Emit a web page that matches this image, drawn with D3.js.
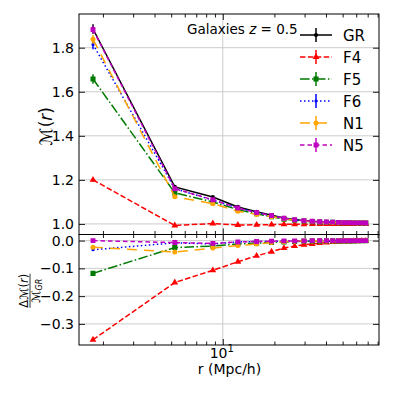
<!DOCTYPE html>
<html>
<head>
<meta charset="utf-8">
<script src="https://cdn.jsdelivr.net/npm/d3@7"></script>
<style>
body { margin: 0; background: #fff; }
text { font-family: "DejaVu Sans", sans-serif; fill: #000; }
</style>
</head>
<body>
<script>
var width = 394;
var height = 394;

// bin centres, Mpc/h
var radii = [1.75, 5.25, 8.75, 12.25, 15.75, 19.25, 22.75, 26.25, 29.75, 33.25,
             36.75, 40.25, 43.75, 47.25, 50.75, 54.25, 57.75, 61.25, 64.75, 68.25];

var models = ["GR", "F4", "F5", "F6", "N1", "N5"];

// mark correlation function M(r)
var markGR = [1.885, 1.168, 1.122, 1.077, 1.055, 1.040, 1.027, 1.020, 1.015, 1.012, 1.010, 1.009, 1.008, 1.007, 1.006, 1.006, 1.005, 1.005, 1.005, 1.004];
var markF4 = [1.200, 0.993, 1.002, 0.995, 0.996, 0.997, 0.998, 0.998, 0.998, 0.999, 0.999, 0.999, 0.999, 1.000, 1.000, 1.000, 1.000, 1.000, 1.000, 1.000];
var markF5 = [1.658, 1.141, 1.100, 1.065, 1.046, 1.033, 1.022, 1.017, 1.013, 1.010, 1.008, 1.007, 1.007, 1.006, 1.005, 1.005, 1.005, 1.004, 1.004, 1.004];
var markF6 = [1.815, 1.160, 1.108, 1.072, 1.052, 1.037, 1.025, 1.018, 1.014, 1.011, 1.009, 1.008, 1.007, 1.006, 1.006, 1.005, 1.005, 1.005, 1.004, 1.004];
var markN1 = [1.838, 1.123, 1.092, 1.058, 1.043, 1.033, 1.024, 1.018, 1.014, 1.011, 1.009, 1.008, 1.007, 1.006, 1.006, 1.005, 1.005, 1.004, 1.004, 1.004];
var markN5 = [1.882, 1.160, 1.110, 1.072, 1.052, 1.038, 1.026, 1.019, 1.015, 1.012, 1.010, 1.009, 1.008, 1.007, 1.006, 1.006, 1.005, 1.005, 1.005, 1.004];

// error bars on M(r)
var errGR = [0.022, 0.006, 0.004, 0.003, 0.002, 0.002, 0.001, 0.001, 0.001, 0.001, 0.001, 0.001, 0.001, 0.001, 0.001, 0.001, 0.001, 0.001, 0.001, 0.001];
var errF4 = [0.008, 0.003, 0.002, 0.002, 0.001, 0.001, 0.001, 0.001, 0.001, 0.001, 0.001, 0.001, 0.001, 0.001, 0.001, 0.001, 0.001, 0.001, 0.001, 0.001];
var errF5 = [0.022, 0.006, 0.004, 0.003, 0.002, 0.002, 0.001, 0.001, 0.001, 0.001, 0.001, 0.001, 0.001, 0.001, 0.001, 0.001, 0.001, 0.001, 0.001, 0.001];
var errF6 = [0.022, 0.006, 0.004, 0.003, 0.002, 0.002, 0.001, 0.001, 0.001, 0.001, 0.001, 0.001, 0.001, 0.001, 0.001, 0.001, 0.001, 0.001, 0.001, 0.001];
var errN1 = [0.020, 0.006, 0.004, 0.003, 0.002, 0.002, 0.001, 0.001, 0.001, 0.001, 0.001, 0.001, 0.001, 0.001, 0.001, 0.001, 0.001, 0.001, 0.001, 0.001];
var errN5 = [0.016, 0.006, 0.004, 0.003, 0.002, 0.002, 0.001, 0.001, 0.001, 0.001, 0.001, 0.001, 0.001, 0.001, 0.001, 0.001, 0.001, 0.001, 0.001, 0.001];

// relative difference to GR
var diffGR = [0, 0, 0, 0, 0, 0, 0, 0, 0, 0, 0, 0, 0, 0, 0, 0, 0, 0, 0, 0];
var diffF4 = [-0.357, -0.151, -0.107, -0.076, -0.055, -0.040, -0.027, -0.020, -0.015, -0.012, -0.009, -0.007, -0.005, -0.004, -0.003, -0.003, -0.002, -0.002, -0.001, -0.001];
var diffF5 = [-0.118, -0.025, -0.020, -0.012, -0.009, -0.007, -0.005, -0.003, -0.002, -0.002, -0.002, -0.001, -0.001, -0.001, -0.001, -0.001, -0.001, 0.000, 0.000, 0.000];
var diffF6 = [-0.033, -0.008, -0.012, -0.005, -0.003, -0.003, -0.002, -0.002, -0.001, -0.001, -0.001, -0.001, -0.001, -0.001, 0.000, 0.000, 0.000, 0.000, 0.000, 0.000];
var diffN1 = [-0.024, -0.041, -0.027, -0.018, -0.012, -0.007, -0.004, -0.002, -0.001, -0.001, -0.001, -0.001, -0.001, 0.000, 0.000, 0.000, 0.000, 0.000, 0.000, 0.000];
var diffN5 = [0.000, -0.007, -0.010, -0.005, -0.003, -0.002, -0.001, -0.001, -0.001, 0.000, 0.000, 0.000, 0.000, 0.000, 0.000, 0.000, 0.000, 0.000, 0.000, 0.000];

var topTicks = [1.0, 1.2, 1.4, 1.6, 1.8];
var bottomTicks = [0.0, -0.1, -0.2, -0.3];
var minorX = [2, 3, 4, 5, 6, 7, 8, 9, 20, 30, 40, 50, 60, 70, 80];

var marks = [markGR, markF4, markF5, markF6, markN1, markN5];
var errs = [errGR, errF4, errF5, errF6, errN1, errN5];
var diffs = [diffGR, diffF4, diffF5, diffF6, diffN1, diffN5];

var styles = {
    GR: { color: "#000000", dash: null, symbol: d3.symbolCircle, size: 14 },
    F4: { color: "#ff0000", dash: "5.5,2.4", symbol: d3.symbolTriangle, size: 20 },
    F5: { color: "#007a00", dash: "9.6,2.4,1.5,2.4", symbol: d3.symbolSquare, size: 26 },
    F6: { color: "#0000ff", dash: "1.5,2.5", symbol: d3.symbolCircle, size: 8 },
    N1: { color: "#ffa500", dash: "10,7", symbol: d3.symbolCircle, size: 20 },
    N5: { color: "#bf00bf", dash: "4.5,3", symbol: d3.symbolSquare, size: 24 }
};

var left = 79, right = 379, top1 = 14, mid = 234.5, bottom2 = 345;

var x = d3.scaleLog().domain([1.45, 81.5]).range([left, right]);
var yTop = d3.scaleLinear().domain([0.952, 1.953]).range([mid, top1]);
var yBot = d3.scaleLinear().domain([-0.376, 0.022]).range([bottom2, mid]);

var svg = d3.select("body").append("svg")
    .attr("width", width)
    .attr("height", height);

svg.append("defs").append("clipPath").attr("id", "clipTop")
    .append("rect").attr("x", left).attr("y", top1).attr("width", right - left).attr("height", mid - top1);
svg.select("defs").append("clipPath").attr("id", "clipBot")
    .append("rect").attr("x", left).attr("y", mid).attr("width", right - left).attr("height", bottom2 - mid);

// grid
var grid = svg.append("g").attr("stroke", "#cccccc").attr("stroke-width", 1);
topTicks.forEach(function (t) {
    grid.append("line").attr("x1", left).attr("x2", right).attr("y1", yTop(t)).attr("y2", yTop(t));
});
bottomTicks.forEach(function (t) {
    grid.append("line").attr("x1", left).attr("x2", right).attr("y1", yBot(t)).attr("y2", yBot(t));
});
grid.append("line").attr("x1", x(10)).attr("x2", x(10)).attr("y1", top1).attr("y2", bottom2);

var fmt = function (d) { return d3.format(".1f")(d).replace("-", "\u2212"); };

function drawAxes(y, ticks, y0, y1, showX) {
    var g = svg.append("g");
    g.append("g").attr("transform", "translate(" + left + ",0)")
        .call(d3.axisLeft(y).tickValues(ticks).tickSize(-6).tickPadding(5).tickFormat(fmt));
    g.append("g").attr("transform", "translate(" + right + ",0)")
        .call(d3.axisRight(y).tickValues(ticks).tickSize(-6).tickFormat(""));
    g.append("g").attr("transform", "translate(0," + y0 + ")")
        .call(d3.axisTop(x).tickValues([10]).tickSize(-6).tickFormat(""));
    g.append("g").attr("transform", "translate(0," + y0 + ")")
        .call(d3.axisTop(x).tickValues(minorX).tickSize(-3.5).tickFormat(""));
    g.append("g").attr("transform", "translate(0," + y1 + ")")
        .call(d3.axisBottom(x).tickValues(minorX).tickSize(-3.5).tickFormat(""));
    g.append("g").attr("transform", "translate(0," + y1 + ")")
        .call(d3.axisBottom(x).tickValues([10]).tickSize(-6).tickFormat(""));
    g.selectAll(".domain").remove();
    g.selectAll("text").attr("font-size", 14).attr("font-family", "DejaVu Sans, sans-serif");
    g.selectAll(".tick line").attr("stroke", "#000").attr("stroke-width", 0.9);
    g.append("rect").attr("x", left).attr("y", y0).attr("width", right - left).attr("height", y1 - y0)
        .attr("fill", "none").attr("stroke", "#000").attr("stroke-width", 1);
    if (showX) {
        var lab = svg.append("text").attr("x", x(10) - 1).attr("y", y1 + 13)
            .attr("text-anchor", "middle").attr("font-size", 14);
        lab.append("tspan").text("10");
        lab.append("tspan").attr("dy", -6).attr("font-size", 10).text("1");
    }
}

function drawSeries(values, errors, y, clip, i) {
    var st = styles[models[i]];
    var g = svg.append("g").attr("clip-path", "url(#" + clip + ")");
    var pts = radii.map(function (r, k) { return [r, values[k], errors ? errors[k] : 0]; });
    g.append("path").datum(pts)
        .attr("fill", "none").attr("stroke", st.color).attr("stroke-width", 1.5)
        .attr("stroke-dasharray", st.dash)
        .attr("d", d3.line().x(function (d) { return x(d[0]); }).y(function (d) { return y(d[1]); }));
    g.selectAll("line.err").data(pts).enter().append("line")
        .attr("stroke", st.color).attr("stroke-width", 1.5)
        .attr("x1", function (d) { return x(d[0]); }).attr("x2", function (d) { return x(d[0]); })
        .attr("y1", function (d) { return y(d[1] - d[2]); }).attr("y2", function (d) { return y(d[1] + d[2]); });
    g.selectAll("path.mk").data(pts).enter().append("path")
        .attr("fill", st.color)
        .attr("transform", function (d) { return "translate(" + x(d[0]) + "," + y(d[1]) + ")"; })
        .attr("d", d3.symbol().type(st.symbol).size(st.size));
}

models.forEach(function (m, i) { drawSeries(marks[i], errs[i], yTop, "clipTop", i); });
models.forEach(function (m, i) {
    if (i > 0) drawSeries(diffs[i], null, yBot, "clipBot", i);
});

drawAxes(yTop, topTicks, top1, mid, false);
drawAxes(yBot, bottomTicks, mid, bottom2, true);

// axis labels
var yl = svg.append("text").attr("transform", "translate(52," + ((top1 + mid) / 2 + 2) + ") rotate(-90)")
    .attr("text-anchor", "middle").attr("font-size", 17);
yl.append("tspan").text("\u2133");
yl.append("tspan").text("(");
yl.append("tspan").attr("font-style", "italic").text("r");
yl.append("tspan").text(")");

var fr = svg.append("g").attr("transform", "translate(30," + ((mid + bottom2) / 2 + 1) + ") rotate(-90)");
var num = fr.append("text").attr("y", -2.5).attr("text-anchor", "middle").attr("font-size", 11.5);
num.append("tspan").text("\u0394\u2133(");
num.append("tspan").attr("font-style", "italic").text("r");
num.append("tspan").text(")");
fr.append("line").attr("x1", -17).attr("x2", 17).attr("y1", 0).attr("y2", 0).attr("stroke", "#000").attr("stroke-width", 0.8);
var den = fr.append("text").attr("y", 10).attr("text-anchor", "middle").attr("font-size", 11.5);
den.append("tspan").text("\u2133");
den.append("tspan").attr("dy", 2).attr("font-size", 8).attr("font-style", "italic").text("GR");

svg.append("text").attr("x", 229.5).attr("y", 374).attr("text-anchor", "middle")
    .attr("font-size", 14).text("r (Mpc/h)");

// annotation
var ann = svg.append("text").attr("x", 187).attr("y", 34).attr("font-size", 13.5);
ann.append("tspan").text("Galaxies ");
ann.append("tspan").attr("font-style", "italic").text("z");
ann.append("tspan").text(" = 0.5");

// legend
var legend = svg.append("g");
models.forEach(function (m, i) {
    var st = styles[m];
    var ly = 35 + i * 22;
    var row = legend.append("g");
    row.append("line").attr("x1", 300).attr("x2", 332).attr("y1", ly).attr("y2", ly)
        .attr("stroke", st.color).attr("stroke-width", 1.5).attr("stroke-dasharray", st.dash);
    row.append("line").attr("x1", 316).attr("x2", 316).attr("y1", ly - 7).attr("y2", ly + 7)
        .attr("stroke", st.color).attr("stroke-width", 1.5);
    row.append("path").attr("fill", st.color).attr("transform", "translate(316," + ly + ")")
        .attr("d", d3.symbol().type(st.symbol).size(st.size));
    row.append("text").attr("x", 343).attr("y", ly + 5.5).attr("font-size", 15).text(m);
});
</script>
</body>
</html>
